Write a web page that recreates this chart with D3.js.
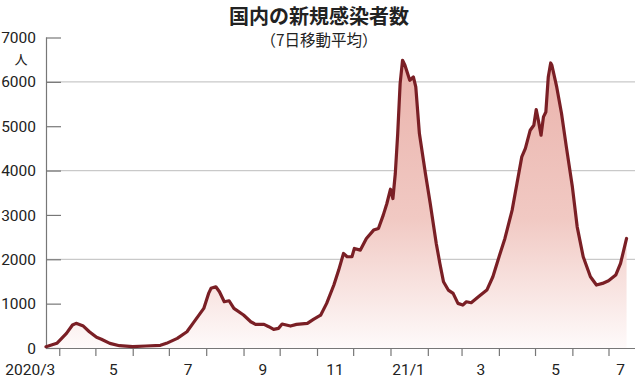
<!DOCTYPE html>
<html>
<head>
<meta charset="utf-8">
<script src="https://cdn.jsdelivr.net/npm/d3@7"></script>
<style>
  body { margin: 0; background: #fff; }
  svg { display: block; }
  .num { font-family: "Liberation Sans Narrow", "Arial Narrow", "Roboto", sans-serif; font-size: 15.5px; fill: #222; }
  .jp { font-family: "Noto Sans CJK JP", sans-serif; fill: #222; }
</style>
</head>
<body>
<svg id="chart" width="638" height="382"></svg>
<script>
// --------------------------
// DATA (7-day average)
// --------------------------
const dates = [
  "2020-03-21", "2020-03-30", "2020-04-07", "2020-04-12", "2020-04-15", "2020-04-21", "2020-04-26",
  "2020-05-02", "2020-05-06", "2020-05-13", "2020-05-21", "2020-06-01", "2020-06-12", "2020-06-24",
  "2020-06-29", "2020-07-08", "2020-07-16", "2020-07-21", "2020-07-27", "2020-07-30", "2020-08-03",
  "2020-08-05", "2020-08-09", "2020-08-12", "2020-08-16", "2020-08-20", "2020-08-24", "2020-09-01",
  "2020-09-07", "2020-09-11", "2020-09-18", "2020-09-22", "2020-09-26", "2020-09-30", "2020-10-03",
  "2020-10-10", "2020-10-15", "2020-10-24", "2020-10-29", "2020-11-04", "2020-11-09", "2020-11-15",
  "2020-11-19", "2020-11-23", "2020-11-26", "2020-11-30", "2020-12-02", "2020-12-07", "2020-12-12",
  "2020-12-18", "2020-12-22", "2020-12-26", "2020-12-29", "2021-01-01", "2021-01-03", "2021-01-05",
  "2021-01-07", "2021-01-09", "2021-01-11", "2021-01-13", "2021-01-17", "2021-01-20", "2021-01-22",
  "2021-01-25", "2021-01-30", "2021-02-03", "2021-02-08", "2021-02-11", "2021-02-14", "2021-02-18",
  "2021-02-22", "2021-02-26", "2021-03-02", "2021-03-05", "2021-03-09", "2021-03-15", "2021-03-22",
  "2021-03-27", "2021-04-02", "2021-04-06", "2021-04-12", "2021-04-16", "2021-04-20", "2021-04-23",
  "2021-04-27", "2021-04-30", "2021-05-02", "2021-05-04", "2021-05-06", "2021-05-08", "2021-05-10",
  "2021-05-12", "2021-05-14", "2021-05-15", "2021-05-19", "2021-05-23", "2021-05-27", "2021-06-01",
  "2021-06-05", "2021-06-10", "2021-06-16", "2021-06-21", "2021-06-26", "2021-07-01", "2021-07-07",
  "2021-07-11", "2021-07-16"
];
const cases = [
  30, 105, 330, 518, 556, 495, 367,
  240, 196, 105, 52, 30, 45, 60,
  105, 218, 367, 556, 780, 893, 1230,
  1345, 1380, 1268, 1043, 1065, 893, 743,
  592, 533, 533, 480, 420, 443, 540,
  495, 533, 556, 646, 740, 1006, 1420,
  1756, 2132, 2057, 2057, 2245, 2207, 2470,
  2658, 2695, 2995, 3258, 3580, 3370, 3934,
  4835, 5960, 6486, 6374, 6036, 6110, 5885,
  4835, 3934, 3258, 2357, 1907, 1493, 1306,
  1231, 1006, 968, 1043, 1020, 1155, 1306,
  1606, 2132, 2470, 3108, 3709, 4309, 4500,
  4910, 5023, 5376, 5097, 4797, 5210, 5322,
  6110, 6426, 6374, 5885, 5285, 4534, 3633,
  2732, 2057, 1606, 1419, 1456, 1516, 1644,
  1907, 2470
];

const yTicks = [0, 1000, 2000, 3000, 4000, 5000, 6000, 7000];
const yGrid = [2000, 4000, 6000];
const monthTicks = [
  "2020-04-01", "2020-05-01", "2020-06-01", "2020-07-01", "2020-08-01", "2020-09-01", "2020-10-01",
  "2020-11-01", "2020-12-01", "2021-01-01", "2021-02-01", "2021-03-01", "2021-04-01", "2021-05-01",
  "2021-06-01", "2021-07-01"
];
const monthLabels = ["2020/3", "5", "7", "9", "11", "21/1", "3", "5", "7"];
const monthLabelDates = [
  "2020-03-08", "2020-05-16", "2020-07-17", "2020-09-17", "2020-11-16", "2021-01-16", "2021-03-17",
  "2021-05-18", "2021-07-11"
];

// --------------------------
// CHART
// --------------------------
const parse = d3.timeParse("%Y-%m-%d");
const data = dates.map((d, i) => ({ date: parse(d), value: cases[i] }));

const svg = d3.select("#chart");
const mLeft = 46, mRight = 635, mTop = 37.5, mBottom = 348;

const x = d3.scaleTime()
  .domain([parse("2020-03-21"), parse("2021-07-23")])
  .range([mLeft, mRight]);

const y = d3.scaleLinear()
  .domain([0, 7000])
  .range([mBottom, mTop]);

// gradient for area
const grad = svg.append("defs").append("linearGradient")
  .attr("id", "fillGrad")
  .attr("gradientUnits", "userSpaceOnUse")
  .attr("x1", 0).attr("y1", y(6500))
  .attr("x2", 0).attr("y2", mBottom);
grad.append("stop").attr("offset", "0%").attr("stop-color", "#eab3ac");
grad.append("stop").attr("offset", "55%").attr("stop-color", "#f1c9c3");
grad.append("stop").attr("offset", "100%").attr("stop-color", "#fefafa");

// Title
svg.append("text")
  .attr("class", "jp")
  .attr("x", 319).attr("y", 24)
  .attr("text-anchor", "middle")
  .attr("font-size", 20)
  .attr("font-weight", "bold")
  .text("国内の新規感染者数");

svg.append("text")
  .attr("class", "jp")
  .attr("x", 319).attr("y", 46)
  .attr("text-anchor", "middle")
  .attr("font-size", 15.5)
  .text("（7日移動平均）");

// Gridlines
svg.append("g")
  .selectAll("line")
  .data(yGrid)
  .enter().append("line")
  .attr("x1", mLeft).attr("x2", mRight)
  .attr("y1", d => y(d)).attr("y2", d => y(d))
  .attr("stroke", "#c9c9c9")
  .attr("stroke-width", 1.2);

// Area + line
const area = d3.area()
  .x(d => x(d.date))
  .y0(y(0))
  .y1(d => y(d.value))
  .curve(d3.curveLinear);

const line = d3.line()
  .x(d => x(d.date))
  .y(d => y(d.value))
  .curve(d3.curveLinear);

svg.append("path")
  .datum(data)
  .attr("d", area)
  .attr("fill", "url(#fillGrad)");

// Y axis
const yAxis = svg.append("g")
  .attr("transform", `translate(${mLeft},0)`)
  .call(d3.axisRight(y).tickValues(yTicks).tickSize(15).tickFormat(""));
yAxis.select(".domain").attr("stroke", "#777").attr("stroke-width", 1.2)
  .attr("d", `M0.5,${mTop}V${mBottom}`);
yAxis.selectAll(".tick line").attr("stroke", "#777").attr("stroke-width", 1.2);

svg.append("g")
  .selectAll("text")
  .data(yTicks)
  .enter().append("text")
  .attr("class", "num")
  .attr("x", 36)
  .attr("y", d => y(d))
  .attr("dy", "0.36em")
  .attr("text-anchor", "end")
  .text(d => d);

svg.append("text")
  .attr("class", "jp")
  .attr("x", 21).attr("y", 64)
  .attr("text-anchor", "middle")
  .attr("font-size", 13)
  .text("人");

// X axis
const xAxis = svg.append("g")
  .attr("transform", `translate(0,${mBottom})`)
  .call(d3.axisBottom(x).tickValues(monthTicks.map(parse)).tickSize(8).tickFormat(""));
xAxis.select(".domain").attr("stroke", "#777").attr("stroke-width", 1.2)
  .attr("d", `M${mLeft},0.5H${mRight}`);
xAxis.selectAll(".tick line").attr("stroke", "#777").attr("stroke-width", 1.2);

svg.append("g")
  .selectAll("text")
  .data(monthLabels)
  .enter().append("text")
  .attr("class", "num")
  .attr("x", (d, i) => x(parse(monthLabelDates[i])))
  .attr("y", 375)
  .attr("text-anchor", "middle")
  .text(d => d);

// line on top
svg.append("path")
  .datum(data)
  .attr("d", line)
  .attr("fill", "none")
  .attr("stroke", "#7a1f25")
  .attr("stroke-width", 3.2)
  .attr("stroke-linejoin", "round")
  .attr("stroke-linecap", "round");
</script>
</body>
</html>
